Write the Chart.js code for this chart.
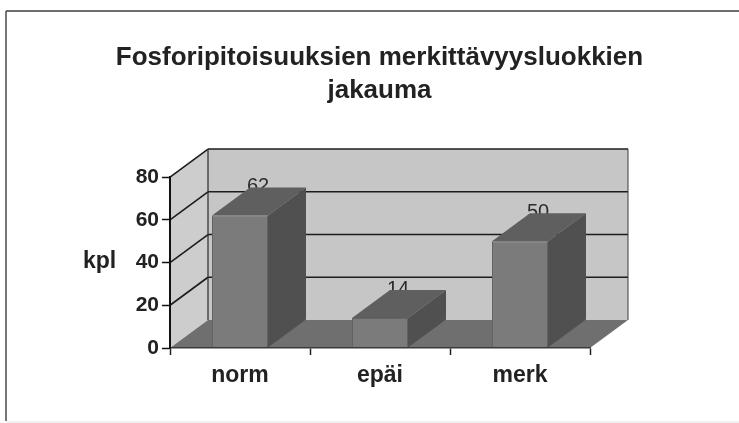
<!DOCTYPE html>
<html>
<head>
<meta charset="utf-8">
<style>
  html, body { margin: 0; padding: 0; background: #fff; overflow: hidden; }
  #wrap { position: relative; width: 739px; height: 423px; overflow: hidden; }
  canvas { filter: blur(0.5px); }
</style>
<script src="https://cdn.jsdelivr.net/npm/chart.js@4"></script>
</head>
<body>
<div id="wrap"><canvas id="myChart1" width="739" height="423"></canvas></div>
<script>
var titleLines = ['Fosforipitoisuuksien merkittävyysluokkien', 'jakauma'];
var categories = ['norm', 'epäi', 'merk'];
var values = [62, 14, 50];
var yTicks = [0, 20, 40, 60, 80];
var yLabel = 'kpl';

var fontName = '"Liberation Sans", Arial, sans-serif';
var depthX = 38;
var depthY = -28;

function poly(ctx, pts, fill) {
  ctx.beginPath();
  ctx.moveTo(pts[0][0], pts[0][1]);
  for (var i = 1; i < pts.length; i++) ctx.lineTo(pts[i][0], pts[i][1]);
  ctx.closePath();
  ctx.fillStyle = fill;
  ctx.fill();
}

function line(ctx, x1, y1, x2, y2, color, w) {
  ctx.beginPath();
  ctx.moveTo(x1, y1);
  ctx.lineTo(x2, y2);
  ctx.strokeStyle = color;
  ctx.lineWidth = w;
  ctx.stroke();
}

// the frame of the scanned figure, and the kpl label
var framePlugin = {
  id: 'frame',
  beforeDraw: function (chart) {
    var ctx = chart.ctx;
    ctx.save();
    line(ctx, 6, 11, 739, 11, '#3c3c3c', 1.5);
    line(ctx, 6, 11, 6, 421, '#4a4a4a', 1.5);
    line(ctx, 6, 422, 739, 422, '#e2e2e2', 1);
    ctx.fillStyle = '#222';
    ctx.font = 'bold 23px ' + fontName;
    ctx.textAlign = 'left';
    ctx.textBaseline = 'middle';
    ctx.fillText(yLabel, 83, 262);
    ctx.restore();
  }
};

// fake 3D: walls, floor, value labels and the bar sides, all from the scales
var depthPlugin = {
  id: 'depth',
  beforeDatasetsDraw: function (chart) {
    var ctx = chart.ctx;
    var a = chart.chartArea;
    var y = chart.scales.y;
    var bars = chart.getDatasetMeta(0).data;
    ctx.save();

    poly(ctx, [[a.left + depthX, a.top + depthY], [a.right + depthX, a.top + depthY],
               [a.right + depthX, a.bottom + depthY], [a.left + depthX, a.bottom + depthY]], '#c6c6c6');
    poly(ctx, [[a.left, a.top], [a.left + depthX, a.top + depthY],
               [a.left + depthX, a.bottom + depthY], [a.left, a.bottom]], '#cdcdcd');
    poly(ctx, [[a.left, a.bottom], [a.right, a.bottom],
               [a.right + depthX, a.bottom + depthY], [a.left + depthX, a.bottom + depthY]], '#6f6f6f');

    yTicks.forEach(function (t) {
      if (t === 0) return;
      var py = y.getPixelForValue(t);
      line(ctx, a.left, py, a.left + depthX, py + depthY, '#1c1c1c', 1.6);
      line(ctx, a.left + depthX, py + depthY, a.right + depthX, py + depthY, '#1c1c1c', 1.6);
    });
    line(ctx, a.left + depthX, a.top + depthY, a.left + depthX, a.bottom + depthY, '#2a2a2a', 1.2);
    line(ctx, a.right + depthX, a.top + depthY, a.right + depthX, a.bottom + depthY, '#3a3a3a', 1);

    // labels go under the bars, in the original they are half hidden
    ctx.fillStyle = '#2c2c2c';
    ctx.font = '20px ' + fontName;
    ctx.textAlign = 'center';
    ctx.textBaseline = 'middle';
    bars.forEach(function (bar, i) {
      ctx.fillText(String(values[i]), bar.x + 18, bar.y - 29);
    });

    bars.forEach(function (bar) {
      var l = bar.x - bar.width / 2;
      var r = bar.x + bar.width / 2;
      poly(ctx, [[l, bar.y], [r, bar.y], [r + depthX, bar.y + depthY], [l + depthX, bar.y + depthY]], '#5f5f5f');
      poly(ctx, [[r, bar.y], [r + depthX, bar.y + depthY], [r + depthX, bar.base + depthY], [r, bar.base]], '#505050');
    });
    ctx.restore();
  }
};

var chartData = {
  labels: categories,
  datasets: [{
    data: values,
    backgroundColor: '#7b7b7b',
    borderColor: '#636363',
    borderWidth: 1,
    barPercentage: 0.4,
    categoryPercentage: 1
  }]
};

var ctx = document.getElementById('myChart1').getContext('2d');
var myChart = new Chart(ctx, {
  type: 'bar',
  data: chartData,
  plugins: [framePlugin, depthPlugin],
  options: {
    responsive: false,
    animation: false,
    // left padding 20 puts the title centre over the plot like the original
    layout: { padding: { left: 20, right: 0, top: 0, bottom: 35 } },
    plugins: {
      legend: { display: false },
      tooltip: { enabled: false },
      title: {
        display: true,
        text: titleLines,
        color: '#222',
        font: { family: fontName, size: 26, weight: 'bold', lineHeight: 1.27 },
        padding: { top: 41, bottom: 70 }
      }
    },
    scales: {
      x: {
        afterFit: function (scale) { scale.height = 40; },
        border: { color: '#3a3a3a', width: 1.5, z: 1 },
        grid: { drawOnChartArea: false, drawTicks: true, tickLength: 7, tickColor: '#222', tickWidth: 1.5, z: 1 },
        ticks: { color: '#222', padding: 7, font: { family: fontName, size: 23, weight: 'bold' } }
      },
      y: {
        min: 0,
        max: 80,
        afterFit: function (scale) { scale.width = 150; },
        afterBuildTicks: function (scale) { scale.ticks = yTicks.map(function (v) { return { value: v }; }); },
        border: { color: '#111', width: 2, z: 1 },
        grid: { drawOnChartArea: false, drawTicks: true, tickLength: 8, tickColor: '#111', tickWidth: 1.5, z: 1 },
        ticks: { color: '#222', padding: 3, font: { family: fontName, size: 21, weight: 'bold' } }
      },
      // empty axis, only keeps the right margin free for the 3D depth
      rightGap: {
        position: 'right',
        min: 0,
        max: 80,
        afterFit: function (scale) { scale.width = 149; },
        border: { display: false },
        grid: { display: false },
        ticks: { display: false }
      }
    }
  }
});
</script>
</body>
</html>
